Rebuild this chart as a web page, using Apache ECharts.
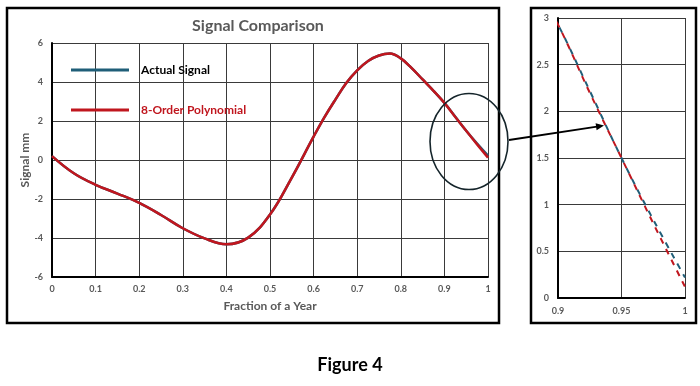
<!DOCTYPE html>
<html>
<head>
<meta charset="utf-8">
<script src="https://cdn.jsdelivr.net/npm/echarts@6/dist/echarts.min.js"></script>
<style>
html,body{margin:0;padding:0;background:#fff;}
#chart{width:700px;height:386px;}
</style>
</head>
<body>
<div id="chart"></div>
<script>
// ---- data ----
var xs = [0, 0.05, 0.1, 0.15, 0.2, 0.25, 0.3, 0.35, 0.4, 0.45, 0.5, 0.55, 0.6, 0.625, 0.65, 0.675, 0.7, 0.725, 0.75, 0.775, 0.8, 0.825, 0.85, 0.875, 0.9, 0.925, 0.95, 0.975, 1];
var actualSignal = [0.2, -0.68, -1.27, -1.72, -2.2, -2.82, -3.5, -4.02, -4.32, -3.98, -2.8, -0.9, 1.2, 2.2, 3.1, 3.95, 4.6, 5.08, 5.36, 5.46, 5.21, 4.71, 4.13, 3.55, 2.93, 2.22, 1.5, 0.84, 0.22];
var polynomial   = [0.2, -0.68, -1.27, -1.72, -2.2, -2.82, -3.5, -4.02, -4.32, -3.98, -2.8, -0.9, 1.2, 2.2, 3.1, 3.95, 4.6, 5.08, 5.36, 5.46, 5.21, 4.71, 4.13, 3.55, 2.93, 2.2, 1.5, 0.8, 0.12];
var seriesNames = ['Actual Signal', '8-Order Polynomial'];
var titleText = 'Signal Comparison';
var xAxisName = 'Fraction of a Year';
var yAxisName = 'Signal mm';
var captionText = 'Figure 4';

function pairs(x, y) { return x.map(function (v, i) { return [v, y[i]]; }); }

var BLUE = '#1f5e78', RED = '#c0161e', GRAY = '#595959', GRID = '#3a3a3a';
var FONT = 'Lato';

var chart = echarts.init(document.getElementById('chart'), null, {renderer: 'canvas'});
var axisLabel = {color: GRAY, fontSize: 9, fontFamily: FONT, fontWeight: 'bold'};
var option = {
  animation: false,
  backgroundColor: '#fff',
  title: {
    text: titleText, left: 253, top: 13, textAlign: 'center',
    textStyle: {color: GRAY, fontSize: 16, fontWeight: 'bold', fontFamily: FONT}
  },
  legend: {
    orient: 'vertical', left: 66, top: 58, itemGap: 26,
    icon: 'rect', itemWidth: 58, itemHeight: 3,
    textStyle: {fontSize: 12, fontWeight: 'bold', fontFamily: FONT, padding: [0, 0, 0, 7], lineHeight: 14},
    data: [
      {name: seriesNames[0], textStyle: {color: '#000'}},
      {name: seriesNames[1], textStyle: {color: RED}}
    ]
  },
  grid: [
    {left: 52, top: 43, width: 436, height: 234},
    {left: 558, top: 18, width: 127, height: 280}
  ],
  xAxis: [
    {gridIndex: 0, type: 'value', min: 0, max: 1, interval: 0.1,
     axisLine: {onZero: false, lineStyle: {color: '#000', width: 2}}, axisTick: {show: false},
     axisLabel: Object.assign({margin: 8}, axisLabel),
     splitLine: {lineStyle: {color: GRID, width: 1}},
     name: xAxisName, nameLocation: 'middle', nameGap: 23, nameMoveOverlap: false,
     nameTextStyle: {color: GRAY, fontSize: 12, fontWeight: 'bold', fontFamily: FONT}},
    {gridIndex: 1, type: 'value', min: 0.9, max: 1, interval: 0.05,
     axisLine: {onZero: false, lineStyle: {color: '#000', width: 2}}, axisTick: {show: false},
     axisLabel: Object.assign({margin: 9}, axisLabel),
     splitLine: {lineStyle: {color: GRID, width: 1}}}
  ],
  yAxis: [
    {gridIndex: 0, type: 'value', min: -6, max: 6, interval: 2,
     axisLine: {show: true, onZero: false, lineStyle: {color: '#000', width: 2}}, axisTick: {show: false},
     axisLabel: Object.assign({margin: 9}, axisLabel),
     splitLine: {lineStyle: {color: GRID, width: 1}},
     name: yAxisName, nameLocation: 'middle', nameGap: 21, nameMoveOverlap: false,
     nameTextStyle: {color: GRAY, fontSize: 12, fontWeight: 'bold', fontFamily: FONT}},
    {gridIndex: 1, type: 'value', min: 0, max: 3, interval: 0.5,
     axisLine: {show: true, onZero: false, lineStyle: {color: '#000', width: 2}}, axisTick: {show: false},
     axisLabel: Object.assign({margin: 9}, axisLabel),
     splitLine: {lineStyle: {color: GRID, width: 1}}}
  ],
  series: [
    {name: seriesNames[0], type: 'line', xAxisIndex: 0, yAxisIndex: 0, data: pairs(xs, actualSignal),
     smooth: 0.4, symbol: 'none', color: BLUE, lineStyle: {color: BLUE, width: 2.5}, z: 2},
    {name: seriesNames[1], type: 'line', xAxisIndex: 0, yAxisIndex: 0, data: pairs(xs, polynomial),
     smooth: 0.4, symbol: 'none', color: RED, lineStyle: {color: RED, width: 2.5}, z: 3},
    {name: seriesNames[0], type: 'line', xAxisIndex: 1, yAxisIndex: 1, data: pairs(xs, actualSignal),
     smooth: 0.4, symbol: 'none', color: BLUE, lineStyle: {color: BLUE, width: 2, type: [6, 6]}, z: 2},
    {name: seriesNames[1], type: 'line', xAxisIndex: 1, yAxisIndex: 1, data: pairs(xs, polynomial),
     smooth: 0.4, symbol: 'none', color: RED, lineStyle: {color: RED, width: 2, type: [6, 6], dashOffset: 6}, z: 3}
  ],
  graphic: [
    {type: 'rect', shape: {x: 7, y: 8, width: 492, height: 315}, style: {fill: 'none', stroke: '#000', lineWidth: 2.5}, z: 10},
    {type: 'rect', shape: {x: 531, y: 8, width: 165, height: 315}, style: {fill: 'none', stroke: '#000', lineWidth: 2.5}, z: 10},
    {type: 'ellipse', shape: {cx: 469, cy: 141.5, rx: 39, ry: 48}, style: {fill: 'none', stroke: '#15252b', lineWidth: 1.6}, z: 10},
    {type: 'line', shape: {x1: 509, y1: 140, x2: 597, y2: 126.6}, style: {stroke: '#000', lineWidth: 1.8}, z: 10},
    {type: 'polygon', shape: {points: [[604, 125.5], [596.6, 130.2], [595.6, 123.2]]}, style: {fill: '#000'}, z: 10},
    {type: 'text', left: 'center', top: 356, style: {text: captionText, fill: '#000', font: 'bold 18px Lato', textAlign: 'center'}, z: 10}
  ]
};
chart.setOption(option);
</script>
</body>
</html>
